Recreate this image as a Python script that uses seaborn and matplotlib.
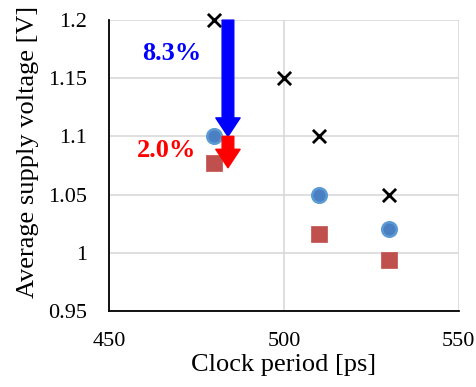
import matplotlib
matplotlib.use("Agg")
import matplotlib.pyplot as plt
import seaborn as sns
import pandas as pd

# Data
x_base = [480, 500, 510, 530]
v_base = [1.2, 1.15, 1.1, 1.05]
x_circ = [480, 510, 530]
v_circ = [1.1, 1.05, 1.02]
x_sq = [480, 510, 530]
v_sq = [1.077, 1.016, 0.994]
labels = ["8.3%", "2.0%"]

sns.set_theme(style="whitegrid")
plt.rcParams['font.family'] = ['Liberation Serif', 'DejaVu Serif']

fig, ax = plt.subplots(figsize=(4.76, 3.87), dpi=100)
fig.subplots_adjust(left=0.229, right=0.964, top=0.948, bottom=0.197)

sns.scatterplot(x=x_base, y=v_base, marker="x", color="black", s=90,
                linewidth=2, ax=ax, zorder=3, clip_on=False)
sns.scatterplot(x=x_circ, y=v_circ, marker="o", color="#4a7fc1", s=110,
                edgecolor="#5b9bd5", linewidth=1.8, ax=ax, zorder=3, clip_on=False)
sns.scatterplot(x=x_sq, y=v_sq, marker="s", color="#c0504d", s=130,
                edgecolor="#c0504d", linewidth=0.5, ax=ax, zorder=3, clip_on=False)

ax.set_xlim(450, 550)
ax.set_ylim(0.95, 1.2)
ax.set_xticks([450, 500, 550])
ax.set_yticks([0.95, 1.0, 1.05, 1.1, 1.15, 1.2])
ax.set_yticklabels(["0.95", "1", "1.05", "1.1", "1.15", "1.2"])
ax.tick_params(axis="y", labelsize=16, colors="black", pad=10)
ax.tick_params(axis="x", labelsize=16, colors="black", pad=9)
ax.set_xlabel("Clock period [ps]", fontsize=19, color="black")
ax.set_ylabel("Average supply voltage [V]", fontsize=19, color="black")
ax.xaxis.set_label_coords(0.5, -0.148)
ax.yaxis.set_label_coords(-0.2, 0.546)

ax.grid(True, color="#d9d9d9", linewidth=1.2)
for s in ["top", "right"]:
    ax.spines[s].set_visible(False)
for s in ["left", "bottom"]:
    ax.spines[s].set_color("black")
    ax.spines[s].set_linewidth(1.3)
ax.set_facecolor("white")

ax_x = 484
style = "simple,head_width=1.25,head_length=0.95,tail_width=0.6"
# Blue arrow: from baseline 1.2 to circle 1.1
ax.annotate("", xy=(ax_x, v_circ[0]), xytext=(ax_x, v_base[0]),
            arrowprops=dict(arrowstyle=style, color="#0000ff",
                            shrinkA=0, shrinkB=0, mutation_scale=14),
            zorder=4, annotation_clip=False)
ax.annotate("", xy=(ax_x, v_sq[0] - 0.004), xytext=(ax_x, v_circ[0]),
            arrowprops=dict(arrowstyle=style, color="#ff0000",
                            shrinkA=0, shrinkB=0, mutation_scale=14),
            zorder=4)

ax.text(468, 1.1715, labels[0], color="#0000ff", fontsize=19, fontweight="bold",
        ha="center", va="center")
ax.text(466.5, 1.088, labels[1], color="#ff0000", fontsize=19, fontweight="bold",
        ha="center", va="center")

fig.savefig("out.png", dpi=100)
